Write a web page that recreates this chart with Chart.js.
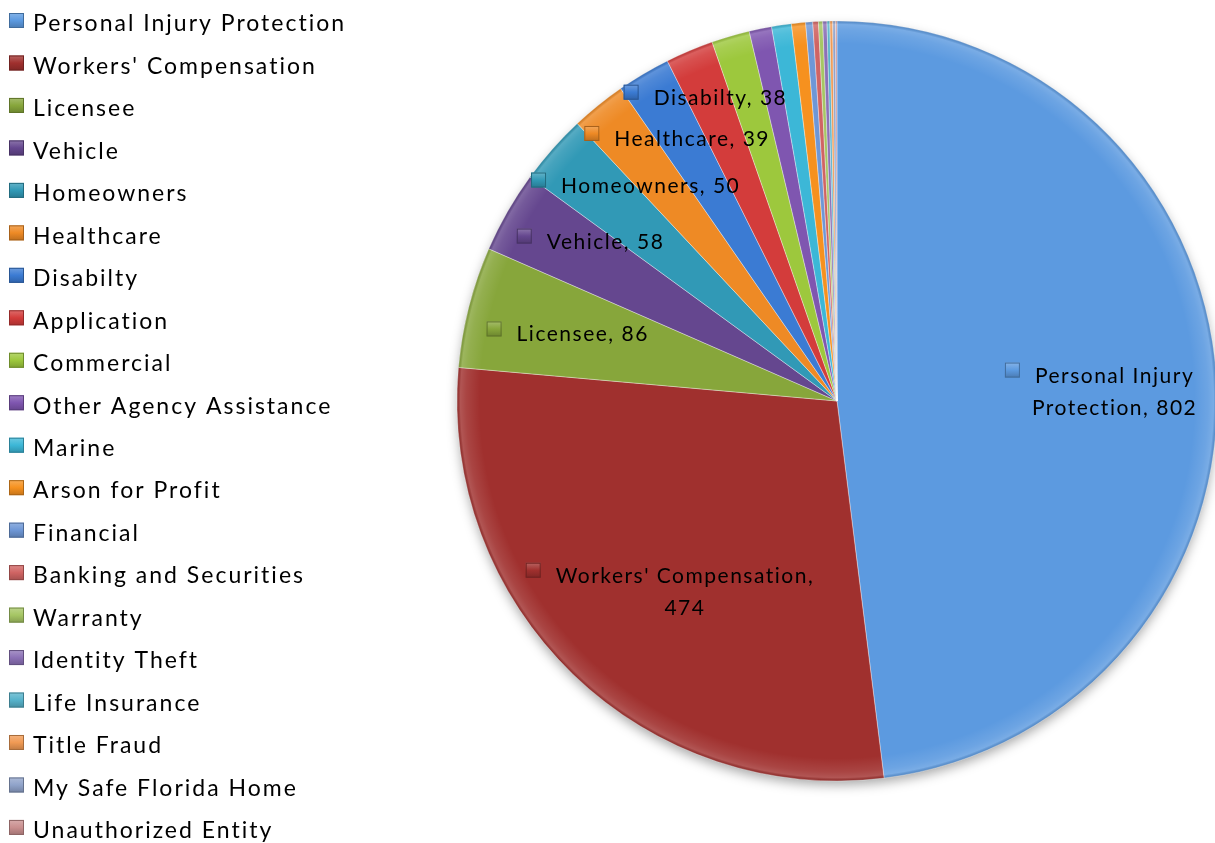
<!DOCTYPE html>
<html>
<head>
<meta charset="utf-8">
<script src="https://cdn.jsdelivr.net/npm/chart.js@4.4.1/dist/chart.umd.min.js"></script>
<style>
html,body{margin:0;padding:0;background:#ffffff;overflow:hidden}
canvas{display:block}
</style>
</head>
<body>
<canvas id="c" width="1215" height="843" style="width:1215px;height:843px"></canvas>
<script>
// ---- data ----
const categories = [
  "Personal Injury Protection","Workers' Compensation","Licensee","Vehicle","Homeowners",
  "Healthcare","Disabilty","Application","Commercial","Other Agency Assistance",
  "Marine","Arson for Profit","Financial","Banking and Securities","Warranty",
  "Identity Theft","Life Insurance","Title Fraud","My Safe Florida Home","Unauthorized Entity"
];
const values = [802,474,86,58,50,39,38,34,27,16,14,10,5,4,3,3,2,2,2,1];
const sliceColors = [
  "#5C9AE0","#A0302E","#87A63B","#65478F","#3199B6",
  "#EE8A25","#3B7BD3","#D33C3B","#9DC83D","#7F56B0",
  "#3CB7D7","#F6911F","#6E97D6","#D06463","#A6C664",
  "#8C71B6","#57B3CB","#F09A54","#90A3CA","#C98F8F"
];
// label layout: [radius fraction, angle shift in degrees, wrap width] (null = no label)
const labelLayout = [
  [0.729, 1.5, 190],[0.642, -5.2, 285],[0.694, 0.4, 400],[0.742, 4.7, 400],
  [0.752, 7.6, 400],[0.79, 9.9, 400],[0.857, 9.5, 400]
];

const FONT = "Lato, 'Open Sans', sans-serif";

function wrapLines(ctx, text, maxW){
  const words = text.split(' ');
  const lines = [];
  let cur = '';
  for (const w of words){
    const t = cur ? cur + ' ' + w : w;
    if (cur && ctx.measureText(t).width > maxW){ lines.push(cur); cur = w; }
    else cur = t;
  }
  if (cur) lines.push(cur);
  return lines;
}

function shade(hex, f){
  const n = parseInt(hex.slice(1), 16);
  let r = (n >> 16) & 255, g = (n >> 8) & 255, b = n & 255;
  if (f < 0){ r *= 1 + f; g *= 1 + f; b *= 1 + f; }
  else { r += (255 - r) * f; g += (255 - g) * f; b += (255 - b) * f; }
  return 'rgb(' + Math.round(r) + ',' + Math.round(g) + ',' + Math.round(b) + ')';
}

function drawMarker(ctx, x, y, s, color){
  ctx.save();
  const g = ctx.createLinearGradient(0, y, 0, y + s);
  g.addColorStop(0, shade(color, 0.25));
  g.addColorStop(0.5, color);
  g.addColorStop(1, shade(color, -0.2));
  ctx.fillStyle = g;
  ctx.fillRect(x, y, s, s);
  ctx.strokeStyle = shade(color, -0.3);
  ctx.lineWidth = 1;
  ctx.strokeRect(x + 0.5, y + 0.5, s - 1, s - 1);
  ctx.restore();
}

const shadowPlugin = {
  id: 'pieShadow',
  beforeDatasetsDraw(chart){
    const arc = chart.getDatasetMeta(0).data[0];
    if (!arc) return;
    const ctx = chart.ctx;
    ctx.save();
    ctx.shadowColor = 'rgba(0,0,0,0.35)';
    ctx.shadowBlur = 12;
    ctx.shadowOffsetY = 5;
    ctx.fillStyle = '#ffffff';
    ctx.beginPath();
    ctx.arc(arc.x, arc.y, arc.outerRadius - 1, 0, Math.PI * 2);
    ctx.fill();
    ctx.restore();
  }
};

const rimPlugin = {
  id: 'rimBevel',
  afterDatasetsDraw(chart){
    const arc = chart.getDatasetMeta(0).data[0];
    if (!arc) return;
    const ctx = chart.ctx, R = arc.outerRadius;
    const g = ctx.createRadialGradient(arc.x, arc.y, R * 0.94, arc.x, arc.y, R);
    g.addColorStop(0, 'rgba(255,255,255,0)');
    g.addColorStop(0.6, 'rgba(255,255,255,0.10)');
    g.addColorStop(0.85, 'rgba(255,255,255,0.18)');
    g.addColorStop(1, 'rgba(0,0,0,0.12)');
    ctx.save();
    ctx.fillStyle = g;
    ctx.beginPath();
    ctx.arc(arc.x, arc.y, R, 0, Math.PI * 2);
    ctx.arc(arc.x, arc.y, R * 0.94, 0, Math.PI * 2, true);
    ctx.fill();
    ctx.restore();
  }
};

const labelPlugin = {
  id: 'sliceLabels',
  afterDatasetsDraw(chart){
    const ctx = chart.ctx;
    const meta = chart.getDatasetMeta(0);
    const fs = 21, lh = 32, cap = fs * 0.72, sp = 1.5;
    ctx.save();
    ctx.font = fs + 'px ' + FONT;
    ctx.letterSpacing = sp + 'px';
    ctx.fillStyle = '#000';
    ctx.textBaseline = 'alphabetic';
    ctx.textAlign = 'left';
    meta.data.forEach((arc, i) => {
      const lay = labelLayout[i];
      if (!lay) return;
      const mid = (arc.startAngle + arc.endAngle) / 2 + lay[1] * Math.PI / 180;
      const d = arc.outerRadius * lay[0];
      const cx = arc.x + Math.cos(mid) * d;
      const cy = arc.y + Math.sin(mid) * d;
      const text = chart.data.labels[i] + ', ' + chart.data.datasets[0].data[i];
      const lines = wrapLines(ctx, text, lay[2]);
      const top = cy - (lines.length - 1) * lh / 2;
      let firstLeft = 0;
      lines.forEach((ln, k) => {
        const w = ctx.measureText(ln).width - sp;
        const lx = cx - w / 2;
        if (k === 0) firstLeft = lx;
        ctx.fillText(ln, lx, top + k * lh + cap / 2);
      });
      const ms = 15;
      drawMarker(ctx, firstLeft - 15 - ms, top - ms / 2 - 5, ms, sliceColors[i]);
    });
    ctx.restore();
  }
};

const legendPlugin = {
  id: 'leftLegend',
  afterDraw(chart){
    const ctx = chart.ctx;
    const fs = 23, cap = fs * 0.72, row = 42.47, first = 23;
    ctx.save();
    ctx.font = fs + 'px ' + FONT;
    ctx.letterSpacing = '2px';
    ctx.textAlign = 'left';
    ctx.textBaseline = 'alphabetic';
    chart.data.labels.forEach((lab, i) => {
      const y = first + i * row;
      drawMarker(ctx, 9, y - 10, 15, sliceColors[i]);
      ctx.fillStyle = '#000';
      ctx.fillText(lab, 33, y + cap / 2);
    });
    ctx.restore();
  }
};

new Chart(document.getElementById('c'), {
  type: 'pie',
  data: {
    labels: categories,
    datasets: [{
      data: values,
      backgroundColor: sliceColors,
      borderColor: 'rgba(255,255,255,0.35)',
      borderWidth: 1,
      radius: 380
    }]
  },
  options: {
    responsive: false,
    animation: false,
    layout: { padding: { left: 459, right: 0, top: 0, bottom: 41 } },
    plugins: {
      legend: { display: false },
      tooltip: { enabled: false }
    }
  },
  plugins: [shadowPlugin, rimPlugin, labelPlugin, legendPlugin]
});
</script>
</body>
</html>
